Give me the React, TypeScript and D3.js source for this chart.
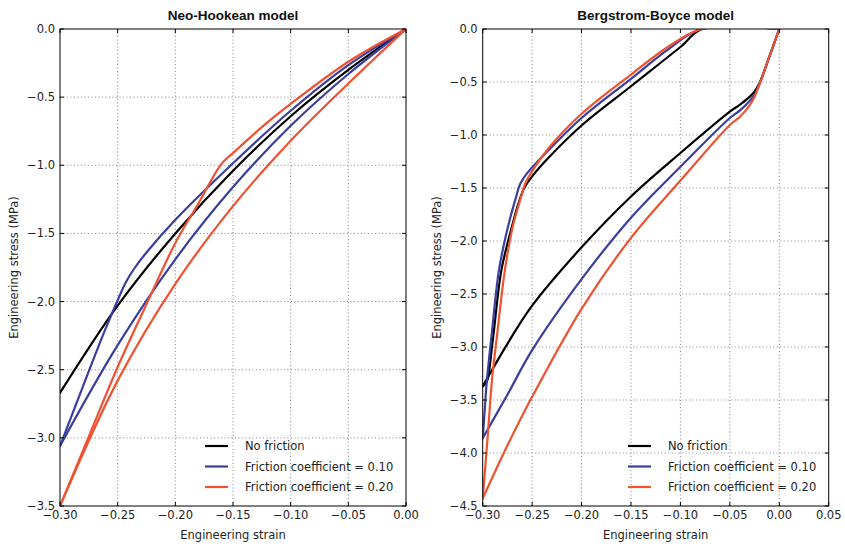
import * as d3 from 'd3';

// tick values
const neoStrainTicks = [-0.3, -0.25, -0.2, -0.15, -0.1, -0.05, 0];
const neoStressTicks = [0, -0.5, -1, -1.5, -2, -2.5, -3, -3.5];
const bbStrainTicks = [-0.3, -0.25, -0.2, -0.15, -0.1, -0.05, 0, 0.05];
const bbStressTicks = [0, -0.5, -1, -1.5, -2, -2.5, -3, -3.5, -4, -4.5];

const seriesNames = ['No friction', 'Friction coefficient = 0.10', 'Friction coefficient = 0.20'];
const seriesColors = ['#000000', '#3a3e9e', '#ee5230'];

// Neo-Hookean model
const neoNoFrictionStrain = [0, -0.05, -0.1, -0.15, -0.2, -0.25, -0.3];
const neoNoFrictionStress = [0, -0.3, -0.64, -1.04, -1.5, -2.03, -2.67];

const neoF10LoadStrain = [0, -0.05, -0.1, -0.15, -0.2, -0.25, -0.3];
const neoF10LoadStress = [0, -0.33, -0.71, -1.16, -1.69, -2.32, -3.06];
const neoF10UnloadStrain = [-0.3, -0.28, -0.261, -0.25, -0.243, -0.235, -0.225, -0.2, -0.15, -0.1, -0.05, 0];
const neoF10UnloadStress = [-3.06, -2.62, -2.21, -1.99, -1.86, -1.75, -1.64, -1.4, -0.985, -0.6, -0.265, 0];

const neoF20LoadStrain = [0, -0.05, -0.1, -0.15, -0.2, -0.25, -0.3];
const neoF20LoadStress = [0, -0.4, -0.82, -1.3, -1.87, -2.58, -3.5];
const neoF20UnloadStrain = [-0.3, -0.275, -0.25, -0.225, -0.2, -0.18, -0.16, -0.15, -0.125, -0.1, -0.05, 0];
const neoF20UnloadStress = [-3.5, -2.99, -2.48, -2.02, -1.57, -1.28, -0.99, -0.91, -0.72, -0.55, -0.24, 0];

// Bergstrom-Boyce model
const bbNoFrictionLoadStrain = [0, -0.01, -0.02, -0.025, -0.03, -0.04, -0.05, -0.1, -0.15, -0.2, -0.25, -0.275, -0.3];
const bbNoFrictionLoadStress = [0, -0.26, -0.51, -0.59, -0.64, -0.715, -0.78, -1.17, -1.58, -2.06, -2.61, -2.97, -3.37];
const bbNoFrictionUnloadStrain = [-0.3, -0.296, -0.29, -0.281, -0.27, -0.264, -0.258, -0.25, -0.233, -0.2, -0.15, -0.1, -0.078, 0];
const bbNoFrictionUnloadStress = [-3.37, -3.33, -2.95, -2.27, -1.85, -1.65, -1.5, -1.39, -1.21, -0.91, -0.54, -0.17, 0, 0];

const bbF10LoadStrain = [0, -0.01, -0.02, -0.025, -0.03, -0.04, -0.05, -0.1, -0.15, -0.2, -0.25, -0.275, -0.3];
const bbF10LoadStress = [0, -0.26, -0.52, -0.62, -0.68, -0.77, -0.84, -1.3, -1.78, -2.36, -3.03, -3.45, -3.86];
const bbF10UnloadStrain = [-0.3, -0.298, -0.296, -0.29, -0.2835, -0.274, -0.267, -0.262, -0.255, -0.233, -0.2, -0.15, -0.112, -0.079, 0];
const bbF10UnloadStress = [-3.86, -3.6, -3.34, -2.8, -2.27, -1.85, -1.61, -1.46, -1.36, -1.14, -0.84, -0.47, -0.19, 0, 0];

const bbF20LoadStrain = [0, -0.01, -0.02, -0.025, -0.03, -0.04, -0.05, -0.1, -0.15, -0.2, -0.25, -0.275, -0.3];
const bbF20LoadStress = [0, -0.26, -0.52, -0.64, -0.72, -0.83, -0.905, -1.43, -1.97, -2.64, -3.47, -3.93, -4.43];
const bbF20UnloadStrain = [-0.3, -0.295, -0.2906, -0.285, -0.2775, -0.27, -0.262, -0.257, -0.25, -0.233, -0.2, -0.15, -0.112, -0.078, 0];
const bbF20UnloadStress = [-4.43, -3.85, -3.31, -2.85, -2.27, -1.88, -1.61, -1.46, -1.34, -1.12, -0.8, -0.43, -0.165, 0, 0];

const zip = (xs, ys) => xs.map((v, i) => [v, ys[i]]);

const neoCurves = [
  [zip(neoNoFrictionStrain, neoNoFrictionStress)],
  [zip(neoF10LoadStrain, neoF10LoadStress), zip(neoF10UnloadStrain, neoF10UnloadStress)],
  [zip(neoF20LoadStrain, neoF20LoadStress), zip(neoF20UnloadStrain, neoF20UnloadStress)],
];
const bbCurves = [
  [zip(bbNoFrictionLoadStrain, bbNoFrictionLoadStress), zip(bbNoFrictionUnloadStrain, bbNoFrictionUnloadStress)],
  [zip(bbF10LoadStrain, bbF10LoadStress), zip(bbF10UnloadStrain, bbF10UnloadStress)],
  [zip(bbF20LoadStrain, bbF20LoadStress), zip(bbF20UnloadStrain, bbF20UnloadStress)],
];

const FONT = 'DejaVu Sans, sans-serif';
const TOP = 29;
const BOTTOM = 506;
const minus = (s: string) => s.replace('-', '\u2212');

function Panel({ id, left, right, title, xTicks, yTicks, curves, legendX, ylabelX }) {
  const x = d3.scaleLinear().domain([xTicks[0], xTicks[xTicks.length - 1]]).range([left, right]);
  const y = d3.scaleLinear().domain([yTicks[yTicks.length - 1], 0]).range([BOTTOM, TOP]);
  const line = d3
    .line<number[]>()
    .x((d) => x(d[0]))
    .y((d) => y(d[1]))
    .curve(d3.curveCatmullRom.alpha(0.5));
  const fx = d3.format('.2f');
  const fy = d3.format('.1f');
  const cx = (left + right) / 2;

  return (
    <g>
      <defs>
        <clipPath id={id}>
          <rect x={left} y={TOP} width={right - left} height={BOTTOM - TOP} />
        </clipPath>
      </defs>
      <rect x={left} y={TOP} width={right - left} height={BOTTOM - TOP} fill="#fff" />
      {/* grid */}
      {xTicks.slice(1, -1).map((t) => (
        <line key={'gx' + t} x1={x(t)} x2={x(t)} y1={TOP} y2={BOTTOM}
          stroke="#666" strokeWidth={0.8} strokeDasharray="1,2.5" />
      ))}
      {yTicks.slice(1, -1).map((t) => (
        <line key={'gy' + t} x1={left} x2={right} y1={y(t)} y2={y(t)}
          stroke="#666" strokeWidth={0.8} strokeDasharray="1,2.5" />
      ))}
      {/* curves */}
      <g clipPath={`url(#${id})`}>
        {curves.map((branches, i) =>
          branches.map((b, j) => (
            <path key={i + '-' + j} d={line(b)} fill="none" stroke={seriesColors[i]}
              strokeWidth={2.2} strokeLinejoin="round" strokeLinecap="round" />
          )),
        )}
      </g>
      {/* frame and inward ticks */}
      <rect x={left} y={TOP} width={right - left} height={BOTTOM - TOP} fill="none" stroke="#000" strokeWidth={1} />
      {xTicks.map((t) => (
        <g key={'tx' + t}>
          <line x1={x(t)} x2={x(t)} y1={BOTTOM} y2={BOTTOM - 4} stroke="#000" />
          <line x1={x(t)} x2={x(t)} y1={TOP} y2={TOP + 4} stroke="#000" />
          <text x={x(t)} y={519} fontSize={11.5} fontFamily={FONT} textAnchor="middle" fill="#222">
            {minus(fx(t))}
          </text>
        </g>
      ))}
      {yTicks.map((t) => (
        <g key={'ty' + t}>
          <line x1={left} x2={left + 4} y1={y(t)} y2={y(t)} stroke="#000" />
          <line x1={right} x2={right - 4} y1={y(t)} y2={y(t)} stroke="#000" />
          <text x={left - 5} y={y(t) + 4} fontSize={11.5} fontFamily={FONT} textAnchor="end" fill="#222">
            {minus(fy(t))}
          </text>
        </g>
      ))}
      {/* labels */}
      <text x={cx} y={20} fontSize={13.5} fontWeight="bold" fontFamily="Liberation Sans, Arial, sans-serif"
        textAnchor="middle" fill="#111">
        {title}
      </text>
      <text x={cx} y={539} fontSize={11.5} fontFamily={FONT} textAnchor="middle" fill="#222">
        Engineering strain
      </text>
      <text transform={`translate(${ylabelX},${(TOP + BOTTOM) / 2}) rotate(-90)`} fontSize={11.5}
        fontFamily={FONT} textAnchor="middle" fill="#222">
        Engineering stress (MPa)
      </text>
      {/* legend */}
      {seriesNames.map((name, i) => (
        <g key={name} transform={`translate(${legendX},${446 + i * 20.5})`}>
          <line x1={0} x2={23} y1={0} y2={0} stroke={seriesColors[i]} strokeWidth={2.2} />
          <text x={40} y={4} fontSize={11.5} fontFamily={FONT} fill="#222">
            {name}
          </text>
        </g>
      ))}
    </g>
  );
}

export default function App() {
  return (
    <svg width={845} height={547} style={{ position: 'absolute', left: 0, top: 0, background: '#fff' }}>
      <rect width={845} height={547} fill="#fff" />
      <Panel id="clipNeo" left={60} right={406} title="Neo-Hookean model" xTicks={neoStrainTicks}
        yTicks={neoStressTicks} curves={neoCurves} legendX={205} ylabelX={18} />
      <Panel id="clipBB" left={482.7} right={828.7} title="Bergstrom-Boyce model" xTicks={bbStrainTicks}
        yTicks={bbStressTicks} curves={bbCurves} legendX={628} ylabelX={441} />
    </svg>
  );
}
